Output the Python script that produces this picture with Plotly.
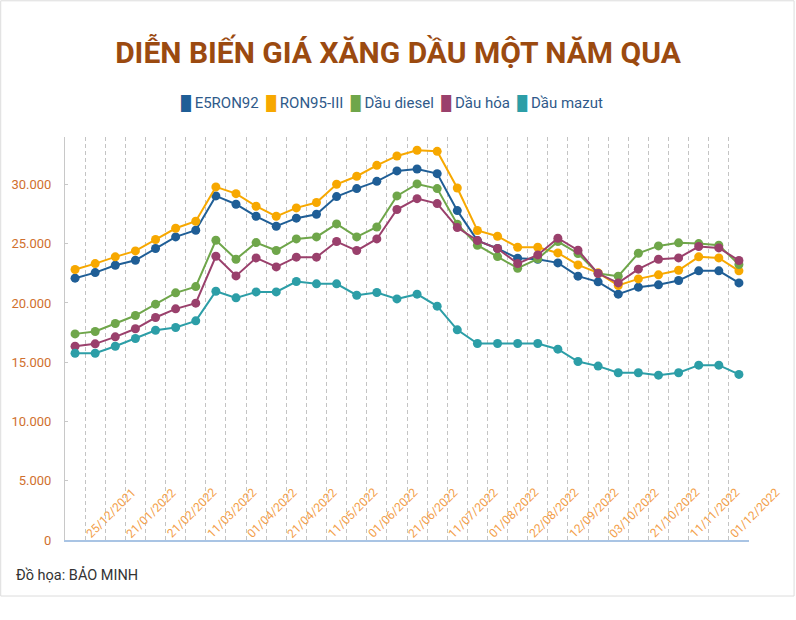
import plotly.graph_objects as go

# gia ban le (dong/lit), 34 ky dieu hanh tu 25/12/2021 den 01/12/2022
e5ron92 = [22090, 22560, 23180, 23600, 24590, 25570, 26130, 29030, 28330, 27310,
           26470, 27150, 27480, 28970, 29650, 30260, 31140, 31300, 30910, 27790,
           25260, 24590, 23770, 23690, 23380, 22260, 21780, 20740, 21330, 21530,
           21890, 22710, 22710, 21690]
ron95 = [22820, 23320, 23890, 24390, 25350, 26300, 26890, 29790, 29220, 28160,
         27310, 28020, 28470, 30010, 30690, 31610, 32400, 32880, 32790, 29700,
         26110, 25630, 24700, 24700, 24220, 23210, 22540, 21470, 22030, 22370,
         22760, 23890, 23800, 22710]
diesel = [17390, 17590, 18270, 18940, 19900, 20850, 21380, 25290, 23690, 25090,
          24420, 25400, 25570, 26670, 25570, 26410, 29030, 30040, 29650, 26640,
          24870, 23910, 22930, 23720, 25180, 24170, 22480, 22260, 24190, 24810,
          25070, 25010, 24870, 23240]
dau_hoa = [16350, 16550, 17140, 17820, 18770, 19500, 19980, 23940, 22280, 23800,
           23040, 23860, 23860, 25180, 24420, 25400, 27880, 28800, 28380, 26360,
           25260, 24590, 23320, 24050, 25460, 24450, 22480, 21690, 22850, 23690,
           23800, 24760, 24640, 23580]
mazut = [15760, 15760, 16350, 17000, 17700, 17930, 18490, 20990, 20430, 20930,
         20930, 21810, 21610, 21610, 20650, 20880, 20340, 20740, 19730, 17730,
         16580, 16580, 16580, 16580, 16100, 15060, 14670, 14110, 14110, 13910,
         14110, 14750, 14750, 13970]

date_labels = ["25/12/2021", "21/01/2022", "21/02/2022", "11/03/2022", "01/04/2022",
               "21/04/2022", "11/05/2022", "01/06/2022", "21/06/2022", "11/07/2022",
               "01/08/2022", "22/08/2022", "12/09/2022", "03/10/2022", "21/10/2022",
               "11/11/2022", "01/12/2022"]

series = [
    ("E5RON92", e5ron92, "#1f5e96"),
    ("RON95-III", ron95, "#f7a800"),
    ("Dầu diesel", diesel, "#6fa64a"),
    ("Dầu hỏa", dau_hoa, "#9a406c"),
    ("Dầu mazut", mazut, "#2c9ea7"),
]

FONT = "Roboto"
x = list(range(len(e5ron92)))

fig = go.Figure()
for name, vals, color in series:
    fig.add_trace(go.Scatter(
        x=x, y=vals, mode="lines+markers", name=name,
        line=dict(color=color, width=2),
        marker=dict(color=color, size=9),
        showlegend=False,
    ))

# legend tu ve: o chu nhat mau + ten, nam gon tren mot dong
legend_html = "  ".join(
    f"<span style='color:{color};font-size:14px'>█</span> {name}" for name, _, color in series
)
fig.add_annotation(
    x=0.478, y=1.084, xref="paper", yref="paper", text=legend_html,
    showarrow=False, xanchor="center", yanchor="middle",
    font=dict(family=FONT, size=15, color="#2f5a8a"),
)

# nhan ngay xoay 45 do, nam trong vung ve ngay tren truc
for k, lbl in enumerate(date_labels):
    fig.add_annotation(
        x=1.3 + 2 * k, xshift=10, y=0, yshift=27, text=lbl, showarrow=False,
        textangle=-45, xanchor="center", yanchor="middle",
        font=dict(family=FONT, size=12, color="#f3a04a"),
    )

fig.add_annotation(
    x=-0.0746, y=-0.087, xref="paper", yref="paper", text="Đồ họa: BẢO MINH",
    showarrow=False, xanchor="left", yanchor="middle",
    font=dict(family=FONT, size=14.5, color="#333333"),
)

# vien mo quanh ca hinh
fig.add_shape(type="rect", xref="paper", yref="paper",
              x0=-0.094, x1=1.0659, y0=-0.139, y1=1.338,
              line=dict(color="#dcdcdc", width=1))

fig.update_layout(
    width=796, height=620,
    margin=dict(l=65, r=47, t=137, b=80),
    paper_bgcolor="white", plot_bgcolor="white",
    showlegend=False,
    title=dict(text="<b>DIỄN BIẾN GIÁ XĂNG DẦU MỘT NĂM QUA</b>",
               x=0.5, xref="container", y=0.916, yanchor="middle",
               font=dict(family=FONT, size=30, color="#9b4a10")),
    xaxis=dict(range=[-0.5, 33.5], tickvals=[i + 0.5 for i in range(33)],
               showticklabels=False, ticks="", showgrid=True, griddash="4px,3px",
               gridcolor="#c4c4c4", gridwidth=1, zeroline=False,
               showline=True, linecolor="#a9c4e4", linewidth=2),
    yaxis=dict(range=[0, 34000], tickvals=[0, 5000, 10000, 15000, 20000, 25000, 30000],
               ticktext=["0", "5.000", "10.000", "15.000", "20.000", "25.000", "30.000"],
               showgrid=False, zeroline=False, showline=True, linecolor="#c8c8c8",
               linewidth=1, ticks="inside", ticklen=3, tickcolor="#c8c8c8",
               ticklabelstandoff=10,
               tickfont=dict(family=FONT, size=13, color="#d0702e")),
)

fig.write_html("out.html", config={"displayModeBar": False},
               post_script="document.body.style.margin='0';")
